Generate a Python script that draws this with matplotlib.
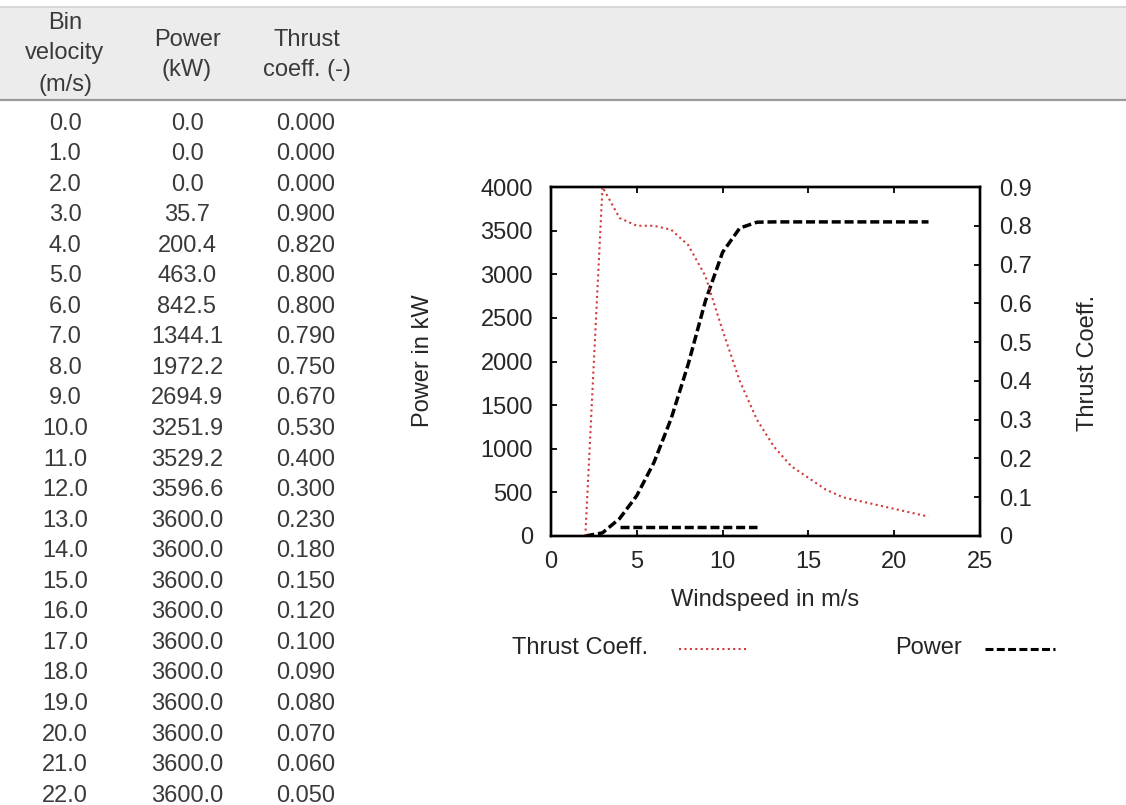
import matplotlib
matplotlib.use("Agg")
import matplotlib.pyplot as plt
from matplotlib.patches import Rectangle
from matplotlib.lines import Line2D

plt.rcParams['font.family'] = ['Liberation Sans', 'DejaVu Sans']

# ---- data ----
velocity = [0.0, 1.0, 2.0, 3.0, 4.0, 5.0, 6.0, 7.0, 8.0, 9.0, 10.0, 11.0,
            12.0, 13.0, 14.0, 15.0, 16.0, 17.0, 18.0, 19.0, 20.0, 21.0, 22.0]
power_kw = [0.0, 0.0, 0.0, 35.7, 200.4, 463.0, 842.5, 1344.1, 1972.2, 2694.9,
            3251.9, 3529.2, 3596.6, 3600.0, 3600.0, 3600.0, 3600.0, 3600.0,
            3600.0, 3600.0, 3600.0, 3600.0, 3600.0]
thrust = [0.000, 0.000, 0.000, 0.900, 0.820, 0.800, 0.800, 0.790, 0.750, 0.670,
          0.530, 0.400, 0.300, 0.230, 0.180, 0.150, 0.120, 0.100, 0.090, 0.080,
          0.070, 0.060, 0.050]
# stray short dashed segment seen in the original plot
stray_x = [4.0, 12.0]
stray_y = [100.0, 100.0]

header_lines = [["Bin", "velocity", "(m/s)"], ["Power", "(kW)"], ["Thrust", "coeff. (-)"]]
x_ticks = [0, 5, 10, 15, 20, 25]
left_ticks = [0, 500, 1000, 1500, 2000, 2500, 3000, 3500, 4000]
right_ticks = [0, 0.1, 0.2, 0.3, 0.4, 0.5, 0.6, 0.7, 0.8, 0.9]

W, H = 1126, 805
fig = plt.figure(figsize=(W / 100, H / 100), dpi=100)
fig.patch.set_facecolor('white')


def fx(px):
    return px / W


def fy(py):
    return 1 - py / H


FS = 17
tcol = '#3a3a3a'
ccol = '#262626'
RED = '#d23a3a'

# ---- table header band ----
fig.patches.append(Rectangle((0, fy(100)), 1, fy(7.5) - fy(100), transform=fig.transFigure,
                             facecolor='#ececec', edgecolor='none', zorder=0))
fig.add_artist(Line2D([0, 1], [fy(7), fy(7)], transform=fig.transFigure,
                      color='#d2d2d2', lw=1.2))
fig.add_artist(Line2D([0, 1], [fy(100.5), fy(100.5)], transform=fig.transFigure,
                      color='#9a9a9a', lw=1.6))

col_x = [65, 187, 307]
header_y = [[23, 53, 85], [40, 70], [40, 70]]
for cx, lines, ys in zip(col_x, header_lines, header_y):
    for txt, yy in zip(lines, ys):
        fig.text(fx(cx), fy(yy), txt, ha='center', va='center', fontsize=FS, color=tcol)

row0, dy = 123.5, 30.55
for i, (v, p, t) in enumerate(zip(velocity, power_kw, thrust)):
    yy = fy(row0 + i * dy)
    fig.text(fx(col_x[0]), yy, f"{v:.1f}", ha='center', va='center', fontsize=FS, color=tcol)
    fig.text(fx(col_x[1]), yy, f"{p:.1f}", ha='center', va='center', fontsize=FS, color=tcol)
    fig.text(fx(306), yy, f"{t:.3f}", ha='center', va='center', fontsize=FS, color=tcol)

# ---- chart ----
ax = fig.add_axes([fx(551), fy(536), fx(980) - fx(551), fy(187) - fy(536)])
ax2 = ax.twinx()

DASH = (0, (2.6, 1.1))
DOT = (0, (1, 1.6))
ax.plot(velocity[2:], power_kw[2:], color='black', lw=2.5, ls=DASH, zorder=2)
ax.plot(stray_x, stray_y, color='black', lw=2.5, ls=DASH, zorder=2)
ax2.plot(velocity[2:], thrust[2:], color=RED, lw=1.5, ls=DOT, zorder=2)

ax.set_xlim(0, 25)
ax.set_ylim(0, 4000)
ax2.set_ylim(0, 0.9)
ax.set_xticks(x_ticks)
ax.set_yticks(left_ticks)
ax2.set_yticks(right_ticks)
ax2.set_yticklabels([f"{v:g}" for v in right_ticks])

for a in (ax, ax2):
    for s in a.spines.values():
        s.set_linewidth(1.7)
        s.set_color('black')

ax.tick_params(axis='x', direction='in', length=4.5, width=1.3, top=True, labelsize=FS,
               pad=11, colors='black', labelcolor=ccol)
ax.tick_params(axis='y', direction='in', length=4.5, width=1.3, labelsize=FS, pad=13,
               colors='black', labelcolor=ccol)
ax2.tick_params(axis='y', direction='in', length=4.5, width=1.3, labelsize=FS, pad=14,
                colors='black', labelcolor=ccol)

ax.set_xlabel("Windspeed in m/s", fontsize=FS, color=ccol)
ax.xaxis.set_label_coords(fx(765), fy(600), transform=fig.transFigure)
ax.set_ylabel("Power in kW", fontsize=FS, color=ccol)
ax.yaxis.set_label_coords(fx(423), fy(361), transform=fig.transFigure)
ax2.set_ylabel("Thrust Coeff.", fontsize=FS, color=ccol)
ax2.yaxis.set_label_coords(fx(1088), fy(363), transform=fig.transFigure)
ax.xaxis.label.set_va('center')
ax.yaxis.label.set_va('center')
ax2.yaxis.label.set_va('center')

# ---- legend (manual, below the chart) ----
fig.text(fx(512), fy(648), "Thrust Coeff.", ha='left', va='center', fontsize=FS, color=ccol)
fig.add_artist(Line2D([fx(679), fx(747)], [fy(649), fy(649)], transform=fig.transFigure,
                      color=RED, lw=1.5, ls=DOT))
fig.text(fx(895), fy(648), "Power", ha='left', va='center', fontsize=FS, color=ccol)
fig.add_artist(Line2D([fx(985), fx(1055)], [fy(649), fy(649)], transform=fig.transFigure,
                      color='black', lw=2.2, ls=DASH))

fig.savefig("out.png", dpi=100)
